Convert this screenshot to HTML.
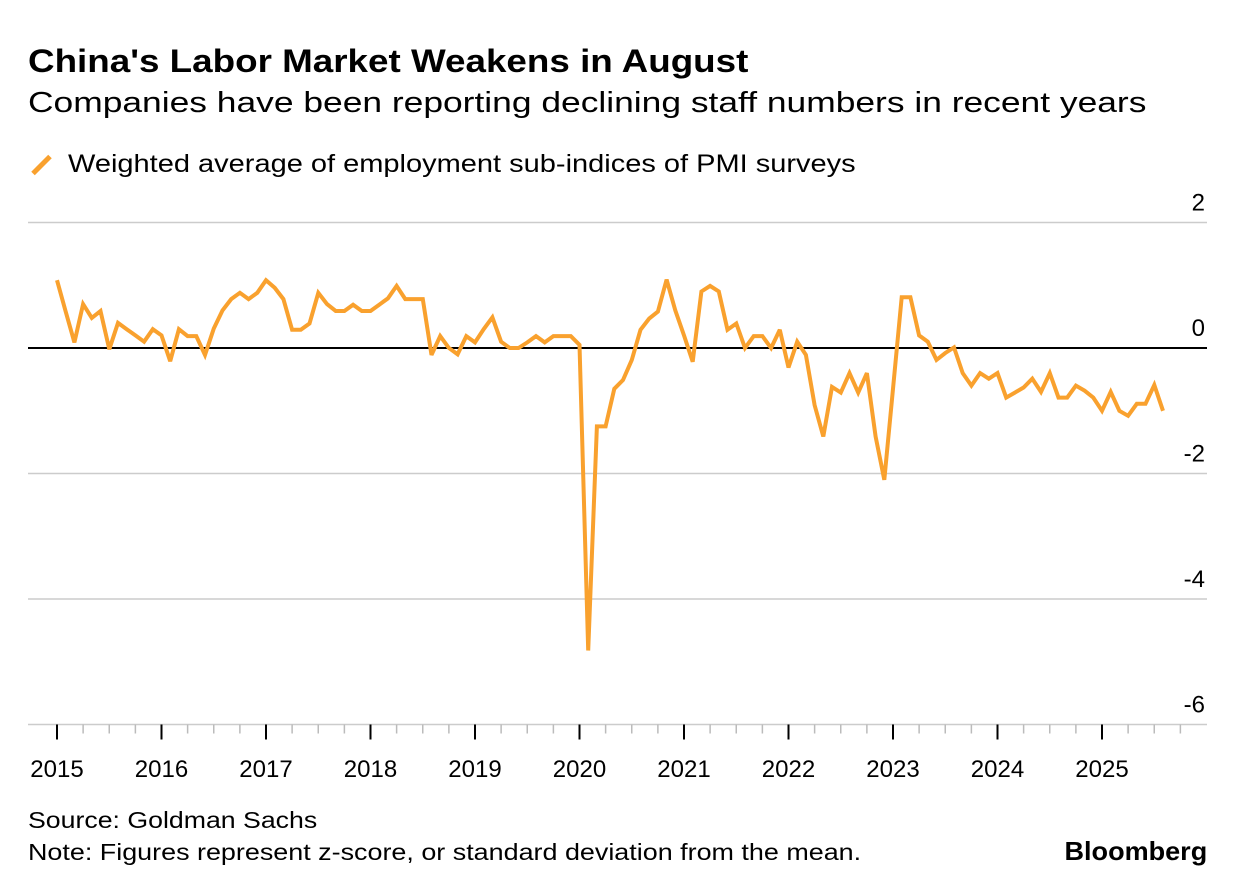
<!DOCTYPE html>
<html><head><meta charset="utf-8"><style>
body{margin:0;background:#fff;width:1237px;height:894px;overflow:hidden;font-family:"Liberation Sans",Arial,sans-serif;color:#000}
.t{position:absolute;white-space:nowrap;transform-origin:left top}
</style></head><body>
<div class="t" style="left:28px;top:43px;font-size:32px;font-weight:bold;transform:scaleX(1.15)">China's Labor Market Weakens in August</div>
<div class="t" style="left:28px;top:87px;font-size:29px;transform:scaleX(1.22)">Companies have been reporting declining staff numbers in recent years</div>
<span style="position:absolute;left:39px;top:153px;width:5px;height:24px;background:#f9a12e;transform:rotate(45deg)"></span>
<div class="t" style="left:68px;top:150px;font-size:25px;transform:scaleX(1.16)">Weighted average of employment sub-indices of PMI surveys</div>
<svg id="chart" width="1237" height="894" style="position:absolute;left:0;top:0"></svg>
<div class="t" style="left:28px;top:807px;font-size:23px;transform:scaleX(1.16)">Source: Goldman Sachs</div>
<div class="t" style="left:28px;top:839px;font-size:23px;transform:scaleX(1.17)">Note: Figures represent z-score, or standard deviation from the mean.</div>
<div class="t" style="right:30px;top:836px;font-size:26px;font-weight:bold;transform-origin:right top;transform:scaleX(1.04)">Bloomberg</div>
<script>
const startYear = 2015;
const values = [
1.08,0.58,0.09,0.70,0.48,0.59,-0.02,0.40,0.30,0.20,0.10,0.30,
0.20,-0.21,0.30,0.19,0.19,-0.11,0.31,0.60,0.78,0.88,0.78,0.88,
1.08,0.96,0.78,0.29,0.29,0.39,0.88,0.70,0.59,0.59,0.69,0.59,
0.59,0.69,0.79,0.99,0.78,0.78,0.78,-0.11,0.19,0,-0.10,0.19,
0.09,0.30,0.49,0.10,0,0,0.09,0.19,0.09,0.19,0.19,0.19,
0.05,-4.82,-1.25,-1.25,-0.65,-0.51,-0.19,0.29,0.47,0.58,1.09,0.6,0.2,
-0.22,0.9,0.99,0.9,0.29,0.39,0,0.19,0.19,0,0.29,-0.31,
0.10,-0.11,-0.91,-1.41,-0.62,-0.71,-0.40,-0.71,-0.40,-1.41,-2.1,-0.65,
0.81,0.81,0.2,0.1,-0.19,-0.08,0.01,-0.40,-0.60,-0.40,-0.49,-0.40,
-0.79,-0.71,-0.63,-0.49,-0.70,-0.40,-0.79,-0.79,-0.60,-0.68,-0.79,-1.0,
-0.70,-1.0,-1.08,-0.89,-0.89,-0.59,-1.0];
const yTicks = [2,0,-2,-4,-6];
const yTickLabels = ["2","0","-2","-4","-6"];
const xYears = [2015,2016,2017,2018,2019,2020,2021,2022,2023,2024,2025];

const svg = document.getElementById('chart');
const NS = 'http://www.w3.org/2000/svg';
const xs = t => 57 + (t - 2015) * 104.5;
const ys = v => 348 - v * 62.75;
function mk(tag, attrs){const e=document.createElementNS(NS,tag);for(const k in attrs)e.setAttribute(k,attrs[k]);svg.appendChild(e);return e;}

yTicks.forEach((v,i)=>{
  const g = mk('line',{x1:28,x2:1207,y1:ys(v),y2:ys(v),stroke:v===0?'#000':'#ccc','stroke-width':v===0?2:1.5});
  
  
  const t = mk('text',{x:1205,y:ys(v)-12,'text-anchor':'end','font-size':24,'font-family':'Liberation Sans, sans-serif'});
  t.textContent = yTickLabels[i];
  
  
});
for(let q=0;q<44;q++){
  const t = 2015 + q*0.25;
  const major = q%4===0;
  const tk = mk('line',{x1:xs(t),x2:xs(t),y1:ys(-6),y2:ys(-6)+(major?15:9),stroke:major?'#000':'#bbb','stroke-width':major?2:1.5});
  
  
}
xYears.forEach(y=>{
  const t = mk('text',{x:xs(y),y:777,'text-anchor':'middle','font-size':24,'font-family':'Liberation Sans, sans-serif'});
  t.textContent = y;
  
  
});
const pts = values.map((v,i)=>xs(startYear + i/12).toFixed(1)+','+ys(v).toFixed(1)).join(' ');
const line = mk('polyline',{points:pts,fill:'none',stroke:'#f9a12e','stroke-width':4,'stroke-linejoin':'miter','stroke-miterlimit':3});


</script>
</body></html>
